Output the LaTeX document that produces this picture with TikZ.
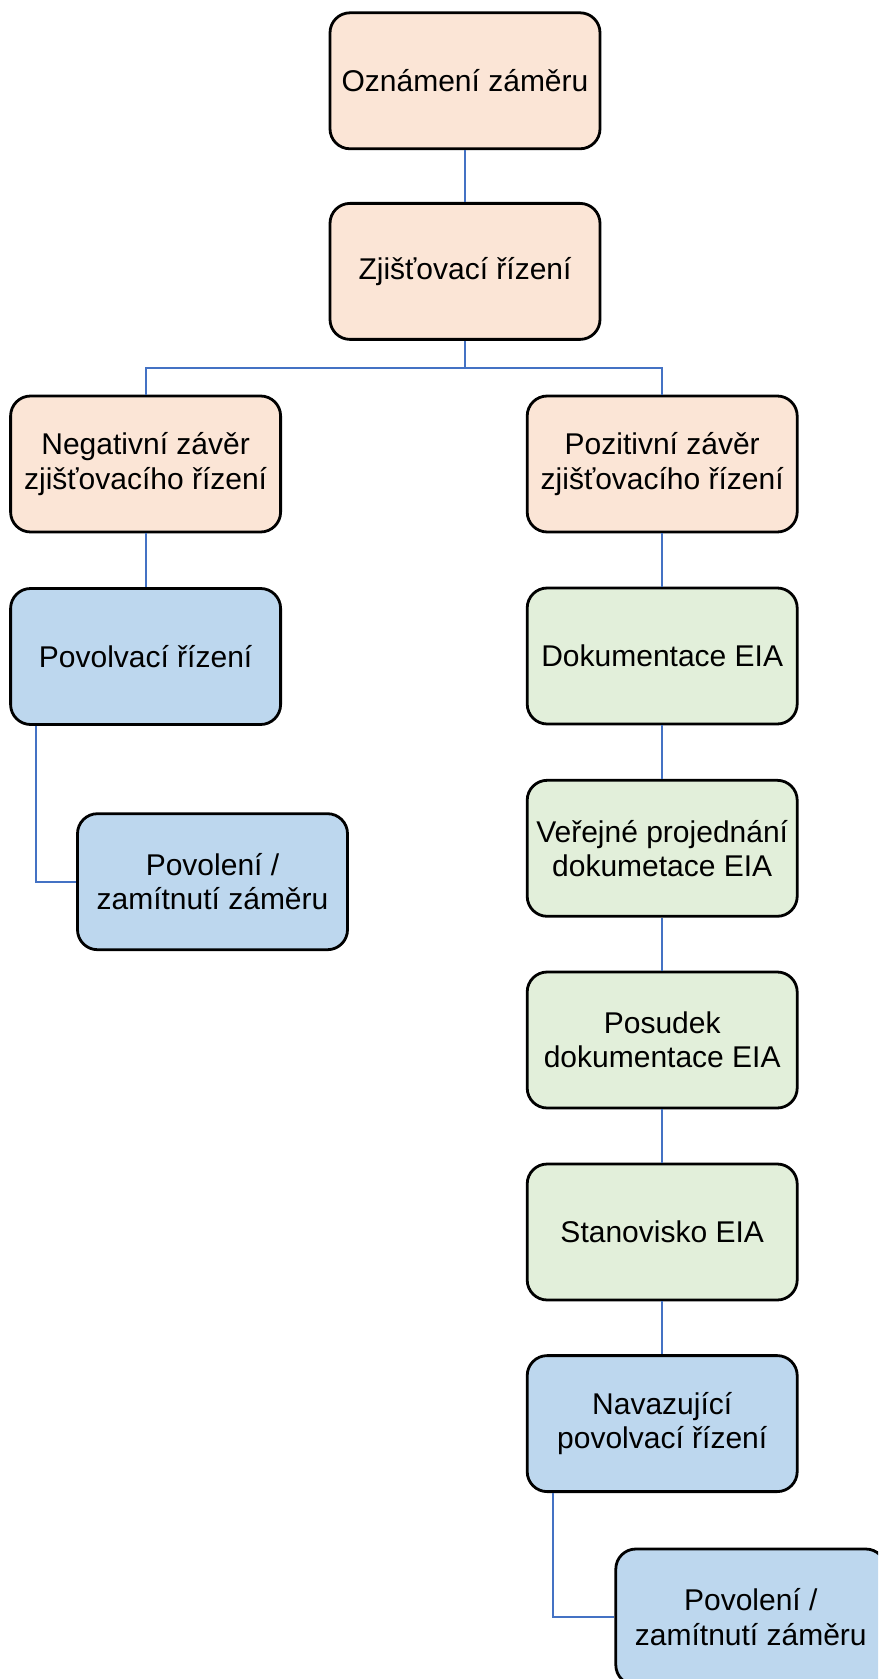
\documentclass[tikz,border=0pt]{standalone}
\usepackage{fontspec}
\setmainfont{Liberation Sans}
\definecolor{broskev}{HTML}{FBE5D6}
\definecolor{zelena}{HTML}{E2EFDA}
\definecolor{modra}{HTML}{BDD7EE}
\definecolor{spoj}{HTML}{4472C4}

\begin{document}
\begin{tikzpicture}[x=0.5pt,y=-0.5pt,
    krok/.style={draw=black,line width=1.4pt,rounded corners=10pt,
      minimum width=135pt,minimum height=68pt,inner sep=1pt,align=center,
      font=\fontsize{15}{17.2}\selectfont},
    link/.style={draw=spoj,line width=1pt}]
  \path[use as bounding box,clip] (0,0) rectangle (878,1679);
  % stred
  \node[krok,fill=broskev] (oznameni) at (465,80.8) {Oznámení záměru};
  \node[krok,fill=broskev] (zjistovaci) at (465,271.4) {Zjišťovací řízení};
  \coordinate (rozcesti) at (465,368);
  % leva vetev
  \node[krok,fill=broskev] (negativni) at (145.6,464) {Negativní závěr\\zjišťovacího řízení};
  \node[krok,fill=modra] (povolovaci) at (145.6,656.5) {Povolvací řízení};
  \node[krok,fill=modra] (povoleniA) at (212.5,881.7) {Povolení /\\zamítnutí záměru};
  % prava vetev
  \node[krok,fill=broskev] (pozitivni) at (662.2,464) {Pozitivní závěr\\zjišťovacího řízení};
  \node[krok,fill=zelena] (dokumentace) at (662.2,656) {Dokumentace EIA};
  \node[krok,fill=zelena] (verejne) at (662.2,848.3) {Veřejné projednání\\dokumetace EIA};
  \node[krok,fill=zelena] (posudek) at (662.2,1040) {Posudek\\dokumentace EIA};
  \node[krok,fill=zelena] (stanovisko) at (662.2,1232) {Stanovisko EIA};
  \node[krok,fill=modra] (navazujici) at (662.2,1423.6) {Navazující\\povolvací řízení};
  \node[krok,fill=modra] (povoleniB) at (750.8,1617) {Povolení /\\zamítnutí záměru};
  % spojnice
  \draw[link] (oznameni) -- (zjistovaci);
  \draw[link] (zjistovaci) -- (rozcesti);
  \draw[link] (rozcesti) -| (negativni);
  \draw[link] (rozcesti) -| (pozitivni);
  \draw[link] (negativni) -- (povolovaci);
  \draw[link] ([xshift=13.4pt]povolovaci.south west) |- (povoleniA.west);
  \draw[link] (pozitivni) -- (dokumentace);
  \draw[link] (dokumentace) -- (verejne);
  \draw[link] (verejne) -- (posudek);
  \draw[link] (posudek) -- (stanovisko);
  \draw[link] (stanovisko) -- (navazujici);
  \draw[link] ([xshift=13.4pt]navazujici.south west) |- (povoleniB.west);
\end{tikzpicture}
\end{document}
